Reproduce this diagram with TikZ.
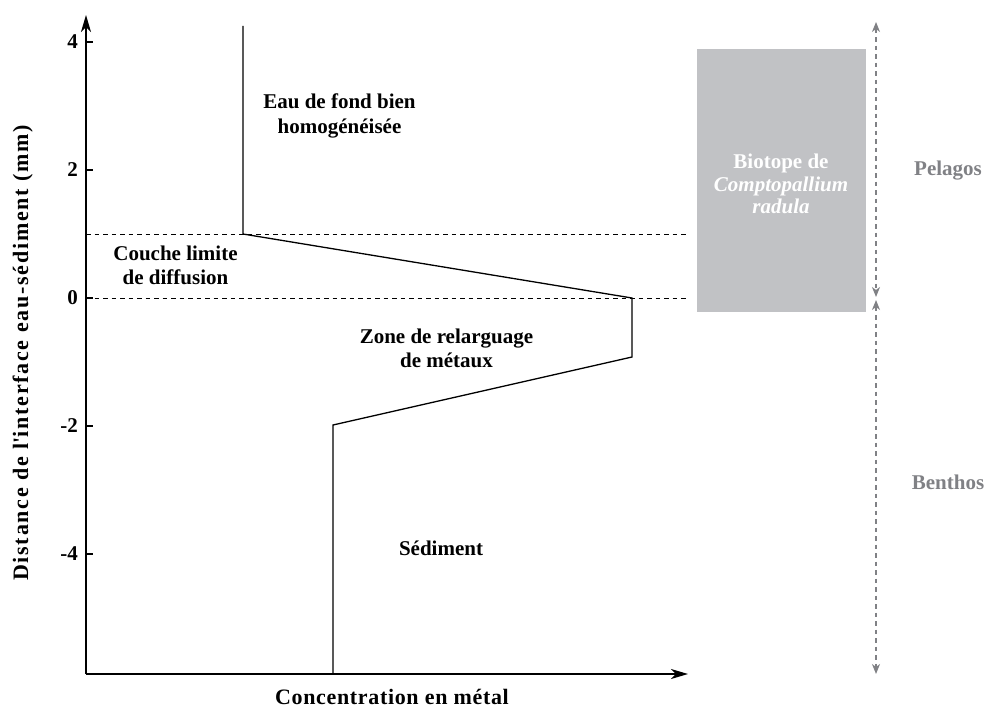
\documentclass[tikz,border=0pt]{standalone}
\usepackage{fontspec}
\setmainfont{Liberation Serif}
\usetikzlibrary{arrows.meta}
\definecolor{boxgray}{HTML}{C1C2C5}
\definecolor{txtgray}{HTML}{808185}
\begin{document}
\begin{tikzpicture}[x=1pt,y=-1pt,
  lbl/.style={font=\fontsize{21}{25}\selectfont\bfseries, inner sep=0pt, anchor=base},
  axlbl/.style={font=\fontsize{22}{25}\selectfont\bfseries\addfontfeatures{LetterSpace=8}, inner sep=0pt, anchor=base},
  axis/.style={line width=1.5pt, -{Stealth[length=17pt,width=10pt,inset=5pt]}},
  prof/.style={line width=1.3pt, line join=miter},
  guide/.style={line width=1pt, dash pattern=on 4.5pt off 4pt},
  ggarrow/.style={line width=1.3pt, draw=txtgray, dash pattern=on 4.5pt off 4pt,
     {Stealth[length=10pt,width=8pt,inset=3pt,fill=txtgray]}-{Stealth[length=10pt,width=8pt,inset=3pt,fill=txtgray]}},
  tick/.style={line width=1.2pt}]
\useasboundingbox (0,0) rectangle (985,709);

% coordinates
\coordinate (O) at (86,674);
\coordinate (ytop) at (86,15);
\coordinate (xend) at (688,674);
\coordinate (p1) at (243,26);
\coordinate (p2) at (243,234);
\coordinate (p3) at (632,298);
\coordinate (p4) at (632,357);
\coordinate (p5) at (333,425);
\coordinate (p6) at (333,674);
\coordinate (d1a) at (86,234);
\coordinate (d1b) at (686,234);
\coordinate (d0a) at (86,298);
\coordinate (d0b) at (686,298);
\coordinate (ga1) at (876,22);
\coordinate (ga2) at (876,297);
\coordinate (gb1) at (876,300);
\coordinate (gb2) at (876,674);

% gray box
\fill[boxgray] (697,49) rectangle (866,312);

% dashed guides
\draw[guide] (d1a) -- (d1b);
\draw[guide] (d0a) -- (d0b);

% axes
\draw[axis] (O) -- (ytop);
\draw[axis] (O) -- (xend);

% ticks and labels
\foreach \v/\yy in {4/42,2/170,0/298,-2/426,-4/554}{
  \coordinate (t\v) at (86,\yy);
  \draw[tick] (t\v) -- ++(7,0);
  \node[lbl, anchor=east] (tl\v) at (78,\yy) {\v};
}

% profile
\draw[prof] (p1) -- (p2) -- (p3) -- (p4) -- (p5) -- (p6);

% gray arrows
\draw[ggarrow] (ga1) -- (ga2);
\draw[ggarrow] (gb1) -- (gb2);

% texts
\node[lbl] (eau1) at (339.5,108) {Eau de fond bien};
\node[lbl] (eau2) at (339.5,133) {homogénéisée};
\node[lbl] (cou1) at (175.5,260) {Couche limite};
\node[lbl] (cou2) at (175.5,284) {de diffusion};
\node[lbl] (zon1) at (446.5,343) {Zone de relarguage};
\node[lbl] (zon2) at (446.5,367) {de métaux};
\node[lbl] (sed) at (441,555) {Sédiment};
\node[axlbl, font=\fontsize{22}{25}\selectfont\bfseries\addfontfeatures{LetterSpace=3}] (conc) at (392,704) {Concentration en métal};
\node[axlbl, rotate=90] (ylab) at (28,353) {Distance de l\textquotesingle interface eau-sédiment (mm)};
\node[lbl, text=white] (bio1) at (781,168) {Biotope de};
\node[lbl, text=white, font=\fontsize{21}{25}\selectfont\bfseries\itshape] (bio2) at (781,191) {Comptopallium};
\node[lbl, text=white, font=\fontsize{21}{25}\selectfont\bfseries\itshape] (bio3) at (781,213) {radula};
\node[lbl, text=txtgray] (pel) at (948,175) {Pelagos};
\node[lbl, text=txtgray] (ben) at (948,489) {Benthos};
\end{tikzpicture}
\end{document}
